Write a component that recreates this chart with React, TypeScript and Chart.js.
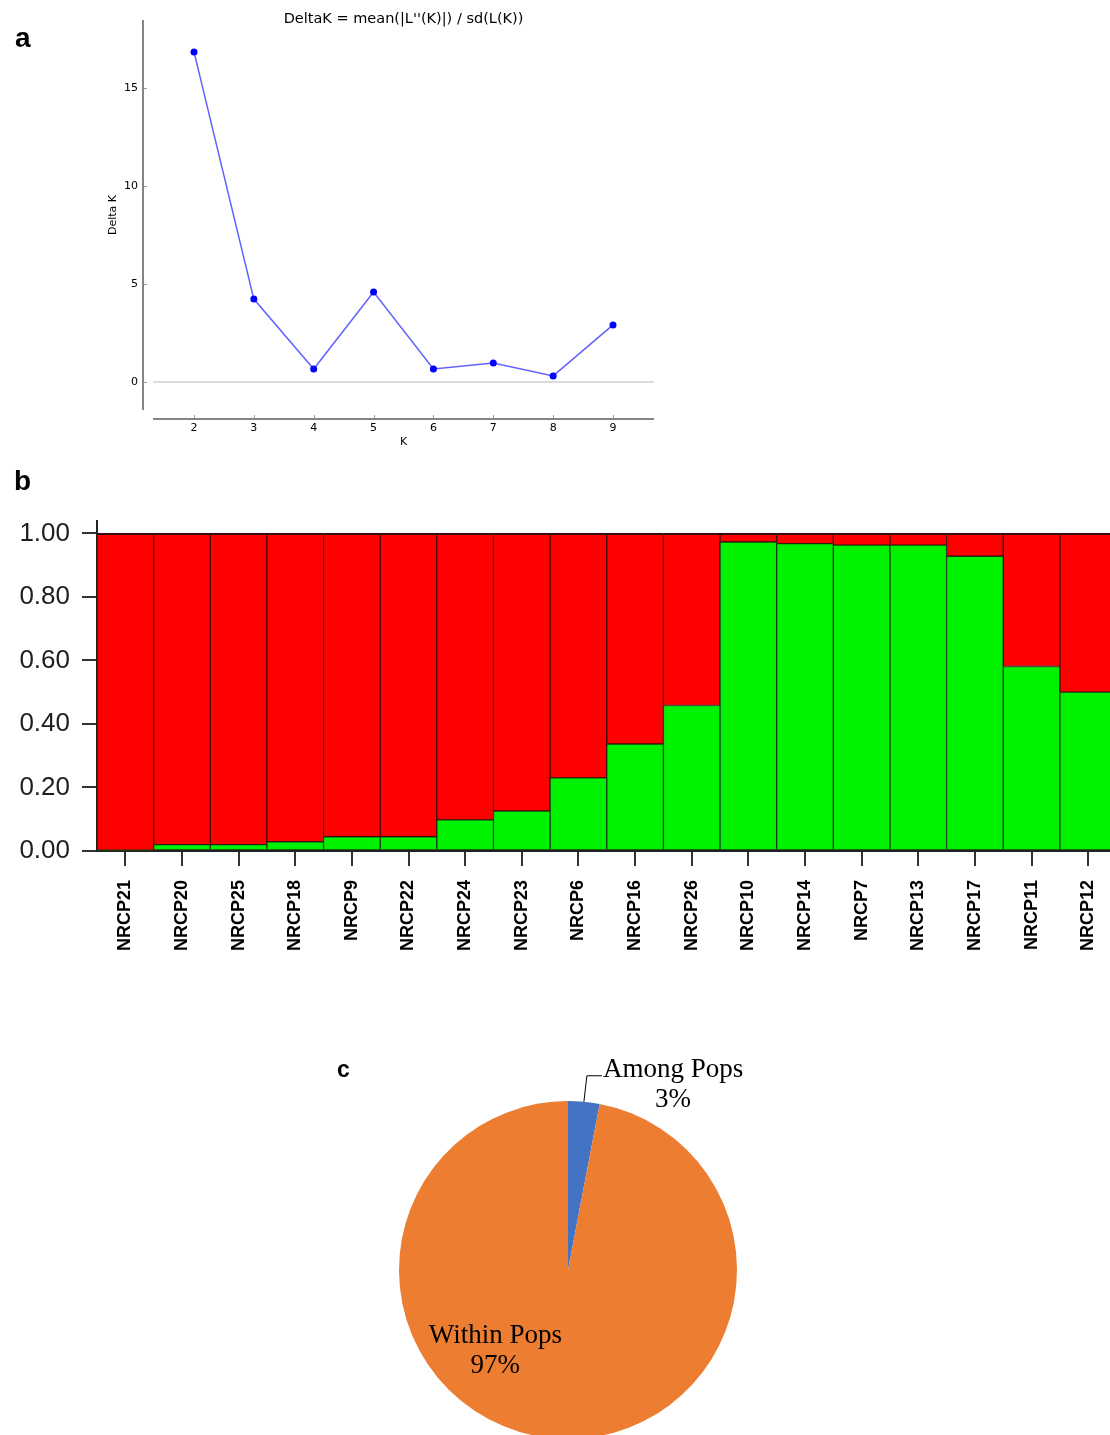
import React, { useEffect, useRef } from "react";
import { Chart, registerables } from "chart.js";

Chart.register(...registerables);

// ---------- Panel a: Delta K ----------
const kValues = [2, 3, 4, 5, 6, 7, 8, 9];
const deltaK = [16.84, 4.23, 0.66, 4.59, 0.66, 0.97, 0.31, 2.91];
const deltaKTicks = [0, 5, 10, 15];

// ---------- Panel b: STRUCTURE Q-matrix (K = 2) ----------
const accessions = [
  "NRCP21", "NRCP20", "NRCP25", "NRCP18", "NRCP9", "NRCP22", "NRCP24", "NRCP23", "NRCP6",
  "NRCP16", "NRCP26", "NRCP10", "NRCP14", "NRCP7", "NRCP13", "NRCP17", "NRCP11", "NRCP12",
];
const clusterGreen = [
  0.003, 0.02, 0.02, 0.029, 0.045, 0.045, 0.098, 0.126, 0.23,
  0.337, 0.458, 0.973, 0.968, 0.963, 0.963, 0.928, 0.581, 0.5,
];
const clusterRed = [
  0.997, 0.98, 0.98, 0.971, 0.955, 0.955, 0.902, 0.874, 0.77,
  0.663, 0.542, 0.027, 0.032, 0.037, 0.037, 0.072, 0.419, 0.5,
];
const qTicks = [0, 0.2, 0.4, 0.6, 0.8, 1.0];

// ---------- Panel c: AMOVA ----------
const amovaSources = ["Among Pops", "Within Pops"];
const amovaPercent = [3, 97];

const spinePlugin = {
  id: "offsetSpines",
  beforeDatasetsDraw(chart: any) {
    const { ctx, chartArea: ca, scales } = chart;
    const y0 = scales.y.getPixelForValue(0);
    ctx.save();
    ctx.strokeStyle = "#dcdcdc";
    ctx.lineWidth = 2;
    ctx.beginPath();
    ctx.moveTo(ca.left, y0);
    ctx.lineTo(ca.right, y0);
    ctx.stroke();
    ctx.restore();
  },
  afterDraw(chart: any) {
    const { ctx, chartArea: ca, scales } = chart;
    const sx = ca.left - 10;
    const sy = ca.bottom + 9;
    ctx.save();
    ctx.strokeStyle = "#858585";
    ctx.lineWidth = 2;
    ctx.beginPath();
    ctx.moveTo(sx, ca.top);
    ctx.lineTo(sx, ca.bottom);
    ctx.stroke();
    ctx.beginPath();
    ctx.moveTo(ca.left, sy);
    ctx.lineTo(ca.right, sy);
    ctx.stroke();
    ctx.strokeStyle = "#9a9a9a";
    ctx.lineWidth = 1;
    scales.y.ticks.forEach((t: any) => {
      const p = Math.round(scales.y.getPixelForValue(t.value)) + 0.5;
      ctx.beginPath();
      ctx.moveTo(sx + 1, p);
      ctx.lineTo(sx + 4, p);
      ctx.stroke();
    });
    scales.x.ticks.forEach((t: any) => {
      const p = Math.round(scales.x.getPixelForValue(t.value)) + 0.5;
      ctx.beginPath();
      ctx.moveTo(p, sy - 1);
      ctx.lineTo(p, sy - 4);
      ctx.stroke();
    });
    ctx.restore();
  },
};

const pieLabelPlugin = {
  id: "pieLabels",
  afterDatasetsDraw(chart: any) {
    const { ctx } = chart;
    const arcs = chart.getDatasetMeta(0).data;
    ctx.save();
    ctx.font = '27px "Liberation Serif", "Times New Roman", serif';
    ctx.fillStyle = "#000";
    ctx.textBaseline = "middle";
    ctx.textAlign = "center";
    const a = arcs[0];
    const mid = (a.startAngle + a.endAngle) / 2;
    const px = a.x + Math.cos(mid) * a.outerRadius;
    const py = a.y + Math.sin(mid) * a.outerRadius;
    const ex = px + 3;
    const ey = py - 26;
    ctx.strokeStyle = "#000";
    ctx.lineWidth = 1;
    ctx.beginPath();
    ctx.moveTo(px, py);
    ctx.lineTo(ex, ey);
    ctx.lineTo(ex + 15, ey);
    ctx.stroke();
    const w0 = ctx.measureText(amovaSources[0]).width;
    const cx0 = ex + 16 + w0 / 2;
    ctx.fillText(amovaSources[0], cx0, ey - 6);
    ctx.fillText(amovaPercent[0] + "%", cx0, ey + 24);
    const b = arcs[1];
    const bx = b.x - 0.43 * b.outerRadius;
    const by = b.y + 0.48 * b.outerRadius;
    ctx.fillText(amovaSources[1], bx, by - 15);
    ctx.fillText(amovaPercent[1] + "%", bx, by + 15);
    ctx.restore();
  },
};

const zeroPad = (s: any) => {
  s.paddingTop = 0;
  s.paddingBottom = 0;
  s.paddingLeft = 0;
  s.paddingRight = 0;
};

function DeltaKChart() {
  const ref = useRef<HTMLCanvasElement>(null);
  useEffect(() => {
    const chart = new Chart(ref.current as HTMLCanvasElement, {
      type: "line",
      data: {
        datasets: [
          {
            data: kValues.map((k, i) => ({ x: k, y: deltaK[i] })),
            borderColor: "#6262ff",
            borderWidth: 1.5,
            pointRadius: 3.5,
            pointBackgroundColor: "#0000ff",
            pointBorderColor: "#0000ff",
            pointBorderWidth: 0,
            clip: false as any,
          },
        ],
      },
      options: {
        animation: false,
        responsive: false,
        maintainAspectRatio: false,
        events: [],
        layout: { padding: { left: 0, right: 46, top: 0, bottom: 10 } },
        plugins: {
          legend: { display: false },
          tooltip: { enabled: false },
          title: {
            display: true,
            text: "DeltaK = mean(|L''(K)|) / sd(L(K))",
            fullSize: false,
            color: "#000",
            font: { family: '"DejaVu Sans", sans-serif', size: 14.5, weight: "normal", lineHeight: 1.2 },
            padding: { top: 10.3, bottom: -7.7 },
          },
        },
        scales: {
          x: {
            type: "linear",
            min: 1.315,
            max: 9.685,
            afterBuildTicks: (s: any) => {
              s.ticks = kValues.map((v) => ({ value: v }));
            },
            afterFit: (s: any) => {
              s.height = 40;
              zeroPad(s);
            },
            grid: { display: false, drawTicks: false },
            border: { display: false },
            ticks: {
              padding: 11.5,
              color: "#000",
              font: { family: '"DejaVu Sans", sans-serif', size: 11 },
            },
            title: {
              display: true,
              text: "K",
              color: "#000",
              font: { family: '"DejaVu Sans", sans-serif', size: 11, lineHeight: 1.2 },
              padding: { top: 0, bottom: 1 },
            },
          },
          y: {
            type: "linear",
            min: -1.43,
            max: 18.47,
            afterBuildTicks: (s: any) => {
              s.ticks = deltaKTicks.map((v) => ({ value: v }));
            },
            afterFit: (s: any) => {
              s.width = 153;
              zeroPad(s);
            },
            grid: { display: false, drawTicks: false },
            border: { display: false },
            ticks: {
              padding: 15,
              color: "#000",
              font: { family: '"DejaVu Sans", sans-serif', size: 11 },
            },
            title: {
              display: true,
              text: "Delta K",
              color: "#000",
              font: { family: '"DejaVu Sans", sans-serif', size: 11, lineHeight: 1.2 },
              padding: { top: 107, bottom: 0 },
            },
          },
        },
      },
      plugins: [spinePlugin],
    } as any);
    return () => chart.destroy();
  }, []);
  return <canvas ref={ref} width={700} height={460} style={{ display: "block" }} />;
}

function StructureChart() {
  const ref = useRef<HTMLCanvasElement>(null);
  useEffect(() => {
    const chart = new Chart(ref.current as HTMLCanvasElement, {
      type: "bar",
      data: {
        labels: accessions,
        datasets: [
          {
            label: "Cluster 2",
            data: clusterGreen,
            backgroundColor: "#00f200",
            borderColor: "#123c12",
            borderWidth: 1,
            borderSkipped: false,
          },
          {
            label: "Cluster 1",
            data: clusterRed,
            backgroundColor: "#ff0000",
            borderColor: "#3e0a0a",
            borderWidth: { top: 2, left: 1, right: 1, bottom: 1 },
            borderSkipped: false,
          },
        ],
      },
      options: {
        animation: false,
        responsive: false,
        maintainAspectRatio: false,
        events: [],
        datasets: { bar: { categoryPercentage: 1, barPercentage: 1 } },
        layout: { padding: { left: 0, right: 13.5, top: 21, bottom: 9 } },
        plugins: { legend: { display: false }, tooltip: { enabled: false } },
        scales: {
          x: {
            stacked: true,
            afterFit: (s: any) => {
              s.height = 110;
              zeroPad(s);
            },
            grid: {
              display: true,
              drawOnChartArea: false,
              offset: false,
              drawTicks: true,
              tickLength: 15,
              color: "#333",
              lineWidth: 2,
            },
            border: { display: true, color: "#222", width: 2 },
            ticks: {
              autoSkip: false,
              maxRotation: 90,
              minRotation: 90,
              padding: 14,
              color: "#000",
              font: { family: '"Liberation Sans", Arial, sans-serif', size: 18, weight: "bold" },
            },
          },
          y: {
            stacked: true,
            min: 0,
            max: 1.039,
            afterBuildTicks: (s: any) => {
              s.ticks = qTicks.map((v) => ({ value: v }));
            },
            afterFit: (s: any) => {
              s.width = 97;
              zeroPad(s);
            },
            grid: {
              display: true,
              drawOnChartArea: false,
              drawTicks: true,
              tickLength: 15,
              color: "#333",
              lineWidth: 2,
            },
            border: { display: true, color: "#222", width: 2 },
            ticks: {
              padding: 12,
              color: "#1e1e1e",
              font: { family: '"Liberation Sans", Arial, sans-serif', size: 26 },
              callback: (v: any) => Number(v).toFixed(2),
            },
          },
        },
      },
    } as any);
    return () => chart.destroy();
  }, []);
  return <canvas ref={ref} width={1130} height={470} style={{ display: "block" }} />;
}

function AmovaChart() {
  const ref = useRef<HTMLCanvasElement>(null);
  useEffect(() => {
    const chart = new Chart(ref.current as HTMLCanvasElement, {
      type: "pie",
      data: {
        labels: amovaSources,
        datasets: [
          {
            data: amovaPercent,
            backgroundColor: ["#4472c4", "#ed7d31"],
            borderWidth: 0,
          },
        ],
      },
      options: {
        animation: false,
        responsive: false,
        maintainAspectRatio: false,
        events: [],
        layout: { padding: { left: 69, right: 69, top: 61, bottom: 61 } },
        plugins: { legend: { display: false }, tooltip: { enabled: false } },
      },
      plugins: [pieLabelPlugin],
    } as any);
    return () => chart.destroy();
  }, []);
  return <canvas ref={ref} width={476} height={460} style={{ display: "block" }} />;
}

const panelLabel = (size: number): React.CSSProperties => ({
  position: "absolute",
  fontFamily: '"Liberation Sans", Arial, sans-serif',
  fontWeight: "bold",
  fontSize: size,
  lineHeight: `${size}px`,
  color: "#000",
});

export default function App() {
  return (
    <div
      style={{
        position: "absolute",
        left: 0,
        top: 0,
        width: 1110,
        height: 1435,
        overflow: "hidden",
        background: "#fff",
      }}
    >
      <div style={{ position: "absolute", left: 0, top: 0 }}>
        <DeltaKChart />
      </div>
      <div style={{ position: "absolute", left: 0, top: 500 }}>
        <StructureChart />
      </div>
      <div style={{ position: "absolute", left: 330, top: 1040 }}>
        <AmovaChart />
      </div>
      <div style={{ ...panelLabel(28), left: 15, top: 24 }}>a</div>
      <div style={{ ...panelLabel(28), left: 14, top: 467 }}>b</div>
      <div style={{ ...panelLabel(23), left: 337, top: 1057.5 }}>c</div>
    </div>
  );
}
